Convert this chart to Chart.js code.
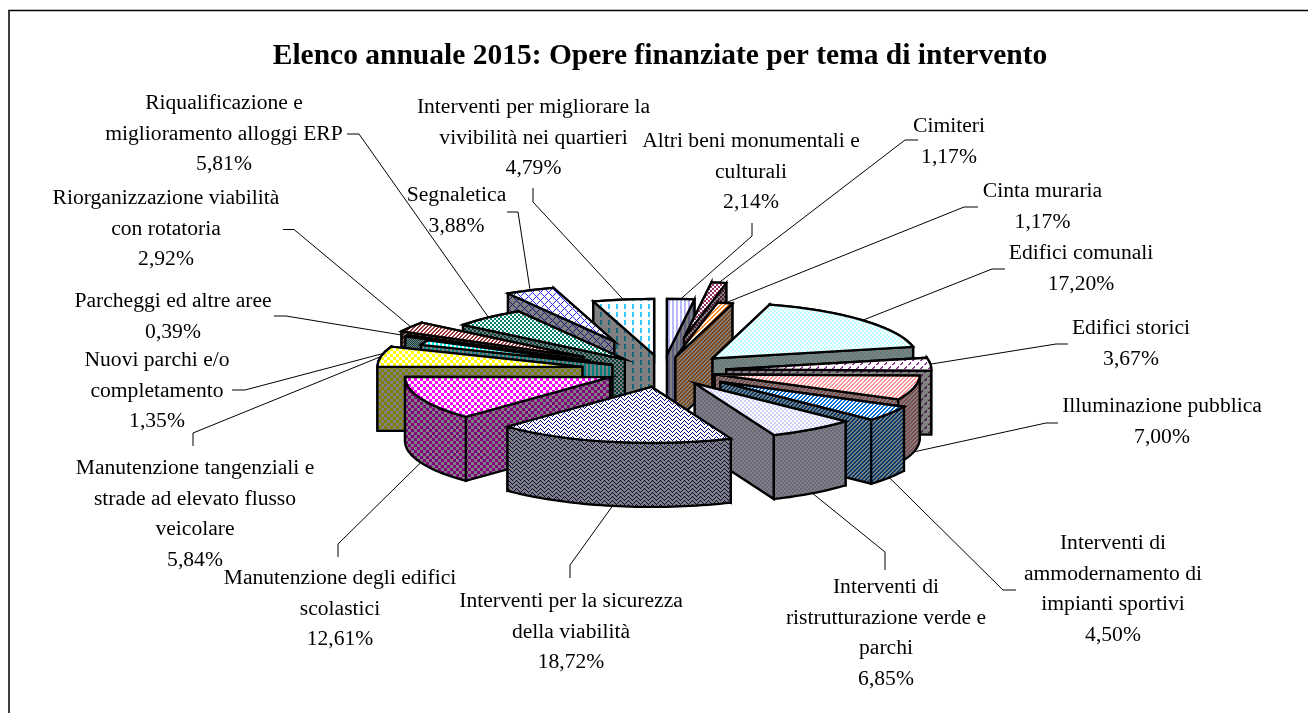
<!DOCTYPE html>
<html lang="it">
<head>
<meta charset="utf-8">
<style>html,body{margin:0;padding:0;background:#fff}#w{width:1308px;height:713px;position:relative}canvas{display:block}</style>
<script src="https://cdn.jsdelivr.net/npm/chart.js@4"></script>
</head>
<body>
<div id="w"><canvas id="c" width="1308" height="713"></canvas></div>
<script>
const titleText = 'Elenco annuale 2015: Opere finanziate per tema di intervento';
const categories = ['Altri beni monumentali e culturali','Cimiteri','Cinta muraria','Edifici comunali','Edifici storici','Illuminazione pubblica','Interventi di ammodernamento di impianti sportivi','Interventi di ristrutturazione verde e parchi','Interventi per la sicurezza della viabilità','Manutenzione degli edifici scolastici','Manutenzione tangenziali e strade ad elevato flusso veicolare','Nuovi parchi e/o completamento','Parcheggi ed altre aree','Riorganizzazione viabilità con rotatoria','Riqualificazione e miglioramento alloggi ERP','Segnaletica','Interventi per migliorare la vivibilità nei quartieri'];
const values = [2.14,1.17,1.17,17.20,3.67,7.00,4.50,6.85,18.72,12.61,5.84,1.35,0.39,2.92,5.81,3.88,4.79];
const wrapped = [['Altri beni monumentali e','culturali'],['Cimiteri'],['Cinta muraria'],['Edifici comunali'],['Edifici storici'],['Illuminazione pubblica'],['Interventi di','ammodernamento di','impianti sportivi'],['Interventi di','ristrutturazione verde e','parchi'],['Interventi per la sicurezza','della viabilità'],['Manutenzione degli edifici','scolastici'],['Manutenzione tangenziali e','strade ad elevato flusso','veicolare'],['Nuovi parchi e/o','completamento'],['Parcheggi ed altre aree'],['Riorganizzazione viabilità','con rotatoria'],['Riqualificazione e','miglioramento alloggi ERP'],['Segnaletica'],['Interventi per migliorare la','vivibilità nei quartieri']];
const explode = [.29,.6,.25,.33,.31,.26,.34,.27,.29,.28,.40,.27,.40,.46,.28,.58,.29];
const fgColors = ['#b8b8ff','#993366','#ff8c26','#c0ffff','#993399','#ff9090','#0070d8','#d0d0ff','#000080','#ff00ff','#ffff00','#00ffff','#008080','#993333','#008070','#2a2aff','#33ccff'];
const patterns = ['vline','check2','diag','check2','dashd','diag','diag','check2','weave','check3','check3','vline','check1','diag','check2','hatch','dashv'];
const labelAnchors = [[751,141],[949,126],[1042.5,191],[1081,253],[1131,328],[1162,406],[1113,543],[886,587],[571,601],[340,578],[195,468],[157,360],[173,301],[166,198],[224,103],[456.5,195],[533.5,107]];
const leaderStarts = [[[752,223],[752,236]],[[918,140],[905,140]],[[978,207],[964,207]],[[1005,269],[992,269]],[[1068,344],[1056,344]],[[1058,423],[1046,423]],[[1016,590],[1003,590]],[[885,570],[885,552]],[[570,578],[570,565]],[[338,557],[338,544]],[[193,446],[193,433]],[[232,390],[245,390]],[[274,316],[286,316]],[[283,229.5],[294,229.5]],[[347,134],[359,134]],[[507,212],[518,212]],[[533,188],[533,202]]];

const CX=663, CY=371, RX=205, RY=56, DEPTH=64, LW=2.3, LINE_H=30.9;
const FONT='21.6px "Liberation Serif"';

function hexHalf(h){const n=parseInt(h.slice(1),16);return '#'+[n>>16,(n>>8)&255,n&255].map(v=>Math.round(v/2).toString(16).padStart(2,'0')).join('');}
const tiles={
 vline:{n:4,f:(x,y)=>x%4<2},
 check1:{n:2,f:(x,y)=>(x+y)%2==0},
 check2:{n:4,f:(x,y)=>((x>>1)+(y>>1))%2==0},
 check3:{n:6,f:(x,y)=>(Math.floor(x/3)+Math.floor(y/3))%2==0},
 diag:{n:4,f:(x,y)=>(x+y)%4<2},
 dashd:{n:8,f:(x,y)=>(x+y)%8<2&&(x-y+16)%8<5},
 weave:{n:8,f:(x,y)=>(x%8<4)?((x+y)%4==0):((x-y+16)%4==0)},
 hatch:{n:8,f:(x,y)=>(x+y)%8<1||(x-y+16)%8<1},
 dashv:{n:8,f:(x,y)=>x%8<2&&y%8<5}
};
function mk(kind,fg,bg){
 const t=tiles[kind],cv=document.createElement('canvas');cv.width=cv.height=t.n;
 const g=cv.getContext('2d');g.fillStyle=bg;g.fillRect(0,0,t.n,t.n);g.fillStyle=fg;
 for(let y=0;y<t.n;y++)for(let x=0;x<t.n;x++)if(t.f(x,y))g.fillRect(x,y,1,1);
 return g.createPattern(cv,'repeat');
}
const topFills=patterns.map((k,i)=>mk(k,fgColors[i],'#ffffff'));
const wallFills=patterns.map((k,i)=>mk(k,hexHalf(fgColors[i]),'#808080'));

function apexOf(arc,i){const m=(arc.startAngle+arc.endAngle)/2;return [CX+explode[i]*RX*Math.cos(m),CY+explode[i]*RY*Math.sin(m)];}
function rim(ap,a,z){return [ap[0]+RX*Math.cos(a),ap[1]+RY*Math.sin(a)+z];}
function poly(ctx,pts,fill){
 ctx.beginPath();pts.forEach((p,j)=>j?ctx.lineTo(p[0],p[1]):ctx.moveTo(p[0],p[1]));ctx.closePath();
 ctx.fillStyle=fill;ctx.fill();ctx.stroke();
}
const pie3d={
 id:'pie3d',
 beforeDatasetsDraw(chart){
  const ctx=chart.ctx,arcs=chart.getDatasetMeta(0).data;
  ctx.save();
  ctx.lineJoin='miter';
  ctx.strokeStyle='#000';ctx.lineWidth=1;
  arcs.forEach((arc,i)=>{
   const m=(arc.startAngle+arc.endAngle)/2,ap=apexOf(arc,i),front=Math.sin(m)>0.1;
   const e=rim(ap,m,front?DEPTH:0);
   ctx.beginPath();ctx.moveTo(...leaderStarts[i][0]);ctx.lineTo(...leaderStarts[i][1]);ctx.lineTo(e[0],e[1]);ctx.stroke();
  });
  const order=arcs.map((a,i)=>i).sort((p,q)=>{
   const f=k=>Math.sin((arcs[k].startAngle+arcs[k].endAngle)/2);return f(p)-f(q);
  });
  ctx.lineWidth=LW;ctx.strokeStyle='#000';
  order.forEach(i=>{
   const arc=arcs[i],s=arc.startAngle,e=arc.endAngle,ap=apexOf(arc,i),R=arc.outerRadius;
   const ps=rim(ap,s,0),pe=rim(ap,e,0);
   const bot=p=>[p[0],p[1]+DEPTH];
   const outer=[];const n=Math.max(2,Math.ceil((e-s)/0.03));
   for(let k=0;k<=n;k++)outer.push(rim(ap,s+(e-s)*k/n,0));
   for(let k=n;k>=0;k--)outer.push(rim(ap,s+(e-s)*k/n,DEPTH));
   const faces=[[ap,ps,bot(ps),bot(ap)],[ap,pe,bot(pe),bot(ap)],outer];
   const depth=f=>f.reduce((t,p)=>t+p[1],0)/f.length;
   wallFills[i].setTransform(new DOMMatrix());
   faces.sort((a,b)=>depth(a)-depth(b)).forEach(f=>poly(ctx,f,wallFills[i]));
   const sx=RX/R,sy=RY/R;
   ctx.setTransform(sx,0,0,sy,ap[0]-arc.x*sx,ap[1]-arc.y*sy);
   topFills[i].setTransform(ctx.getTransform().inverse());
   arc.draw(ctx);
   ctx.beginPath();ctx.moveTo(arc.x,arc.y);ctx.arc(arc.x,arc.y,R,s,e);ctx.closePath();
   ctx.setTransform(1,0,0,1,0,0);
   ctx.stroke();
  });
  ctx.restore();
  return false;
 },
 afterDraw(chart){
  const ctx=chart.ctx;
  ctx.save();
  ctx.strokeStyle='#000';ctx.lineWidth=1.5;
  ctx.beginPath();ctx.moveTo(9,713);ctx.lineTo(9,10.5);ctx.lineTo(1308,10.5);ctx.stroke();
  ctx.fillStyle='#000';ctx.font=FONT;ctx.textAlign='center';ctx.textBaseline='middle';
  wrapped.forEach((lines,i)=>{
   const [x,y]=labelAnchors[i];
   const all=lines.concat([values[i].toFixed(2).replace('.',',')+'%']);
   all.forEach((t,j)=>ctx.fillText(t,x,y+j*LINE_H));
  });
  ctx.restore();
 }
};
new Chart(document.getElementById('c'),{
 type:'pie',
 data:{labels:categories,datasets:[{data:values,backgroundColor:topFills,borderWidth:0}]},
 options:{
  responsive:false,animation:false,
  layout:{padding:{left:12}},
  plugins:{
   legend:{display:false},tooltip:{enabled:false},
   title:{display:true,text:titleText,color:'#000',font:{family:'"Liberation Serif"',size:29.5,weight:'bold'},padding:{top:39,bottom:10}}
  }
 },
 plugins:[pie3d]
});
</script>
</body>
</html>
